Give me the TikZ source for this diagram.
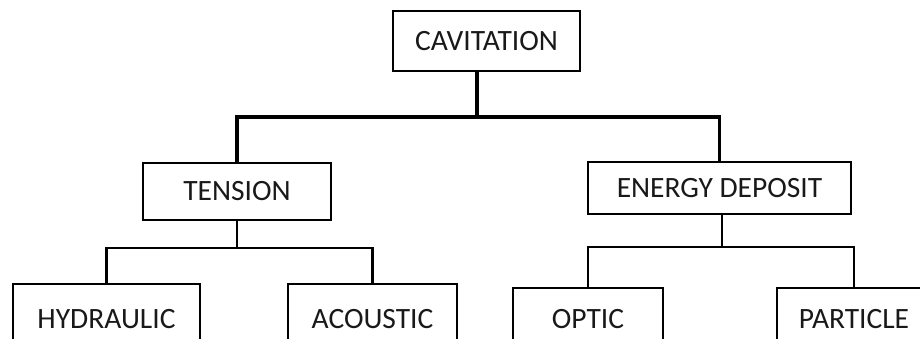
\documentclass[tikz,border=0pt]{standalone}
\usepackage{fontspec}
\setmainfont{Carlito}
\begin{document}
\begin{tikzpicture}[x=1pt,y=-1pt,
  box/.style={draw=black, line width=2pt, fill=white, inner sep=0pt,
    font=\fontsize{29.5}{33}\selectfont, text=black!90},
  trunk/.style={line width=3.5pt, line join=miter},
  link/.style={line width=2.6pt, line join=miter}]
\useasboundingbox (0,0) rectangle (920,338);
\clip (0,0) rectangle (920,338);

\node[box, minimum width=187pt, minimum height=60pt] (cav) at (486.5,41) {CAVITATION};
\node[box, minimum width=188pt, minimum height=57pt] (ten) at (237,191.5) {TENSION};
\node[box, minimum width=263pt, minimum height=52pt] (ene) at (719.5,188) {ENERGY DEPOSIT};

\node[box, anchor=north, minimum width=187pt, minimum height=70pt] (hyd) at (106.5,283) {HYDRAULIC};
\node[box, anchor=north, minimum width=169pt, minimum height=70pt] (aco) at (372.5,283) {ACOUSTIC};
\node[box, anchor=north, minimum width=150pt, minimum height=62pt] (opt) at (588,287) {OPTIC};
\node[box, anchor=north, minimum width=154pt, minimum height=62pt] (par) at (854,287) {PARTICLE};

\coordinate (j0) at (477,117);
\coordinate (j1) at (237,248);
\coordinate (j2) at (722,247);

\draw[trunk] (cav.south -| j0) -- (j0);
\draw[trunk] (ten.north) |- (j0) -| (ene.north);

\draw[link] (ten.south) -- (j1);
\draw[link] (hyd.north) |- (j1) -| (aco.north);

\draw[link] (ene.south -| j2) -- (j2);
\draw[link] (opt.north) |- (j2) -| (par.north);
\end{tikzpicture}
\end{document}
